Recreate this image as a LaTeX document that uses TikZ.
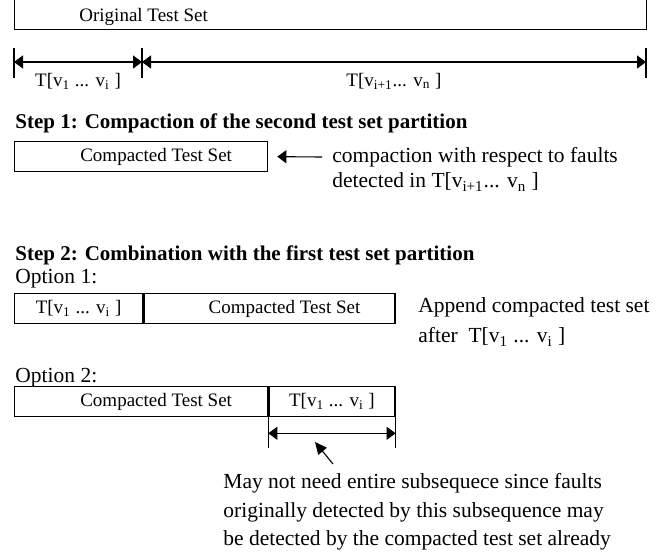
\documentclass[tikz,border=0pt]{standalone}
\usepackage{fontspec}
\setmainfont{Liberation Serif}
\usepackage{tikz}
\usetikzlibrary{arrows.meta,positioning,calc}

\begin{document}
\begin{tikzpicture}[x=0.5pt, y=-0.5pt,
  cell/.style={draw, line width=0.65pt, minimum height=15pt, inner sep=0pt, anchor=north west,
               font=\fontsize{9.5}{11}\selectfont},
  body/.style={inner sep=0pt, anchor=west, font=\fontsize{10.75}{14.25}\selectfont},
  head/.style={inner sep=0pt, anchor=west, font=\fontsize{10.5}{12}\selectfont\bfseries},
  dimarrow/.style={{Triangle[length=4.5pt,width=6.5pt]}-{Triangle[length=4.5pt,width=6.5pt]}, line width=0.55pt},
  arrow/.style={-{Triangle[length=4.5pt,width=6.5pt]}, line width=0.55pt},
  tick/.style={line width=0.55pt},
]
  \useasboundingbox (0,0) rectangle (672,558);

  % Original test set
  \node[cell, minimum width=316pt, minimum height=25pt, anchor=south west] (orig) at (14,30) {};
  \node[body, font=\fontsize{9.5}{11}\selectfont] (origtxt) at (79,17) {Original Test Set};

  \coordinate (a0) at (14,62);
  \coordinate (a1) at (142,62);
  \coordinate (a2) at (646,62);
  \foreach \c in {a0,a1,a2}
    \draw[tick] ($(\c)+(0,-14)$) -- ($(\c)+(0,16)$);
  \draw[dimarrow] (a0) -- node[below=5.5pt, inner sep=0pt, font=\fontsize{9.5}{11}\selectfont]
    {T[v\textsubscript{1} ... v\textsubscript{i} ]} (a1);
  \draw[dimarrow] (a1) -- node[below=5.5pt, inner sep=0pt, font=\fontsize{9.5}{11}\selectfont]
    {T[v\textsubscript{i+1}... v\textsubscript{n} ]} (a2);

  % Step 1
  \node[head] (step1) at (15,123) {Step 1: Compaction of the second test set partition};
  \node[cell, minimum width=126.5pt] (s1box) at (14,141) {\hspace*{15pt}Compacted Test Set};
  \node[body] (cmp) at (332,157) {compaction with respect to faults};
  \node[body] (det) at (332,182) {detected in T[v\textsubscript{i+1}... v\textsubscript{n} ]};
  \draw[arrow] ([xshift=-5pt]cmp.west) -- ([xshift=4.5pt]s1box.east);

  % Step 2
  \node[head] (step2) at (15,255) {Step 2: Combination with the first test set partition};

  % Option 1
  \node[body] (opt1) at (15,279) {Option 1:};
  \node[cell, minimum width=64pt] (o1a) at (14,293) {T[v\textsubscript{1} ... v\textsubscript{i} ]};
  \node[cell, minimum width=125.5pt] (o1b) at (o1a.north east) {\hspace*{15pt}Compacted Test Set};
  \node[body] (app) at (418,307) {Append compacted test set};
  \node[body] (aft) at (418,337) {after\ \ T[v\textsubscript{1} ... v\textsubscript{i} ]};

  % Option 2
  \node[body] (opt2) at (15,378) {Option 2:};
  \node[cell, minimum width=126.5pt] (o2a) at (14,386) {\hspace*{15pt}Compacted Test Set};
  \node[cell, minimum width=63pt] (o2b) at (o2a.north east) {T[v\textsubscript{1} ... v\textsubscript{i} ]};

  \coordinate (c0) at ($(o2b.south west)+(0,31)$);
  \coordinate (c1) at ($(o2b.south east)+(0,31)$);
  \draw[tick] (o2b.south west) -- (c0);
  \draw[tick] (o2b.south east) -- (c1);
  \draw[dimarrow] ($(o2b.south west)+(0,16)$) -- ($(o2b.south east)+(0,16)$);

  % Remark
  \node[body, align=left] (note) at (223,512)
    {May not need entire subsequece since faults\\
     originally detected by this subsequence may\\
     be detected by the compacted test set already};
  \coordinate (ptip) at (315,442);
  \coordinate (ptail) at (333,464);
  \draw[-{Triangle[length=6pt,width=5.5pt]}, line width=0.55pt] (ptail) -- (ptip);
\end{tikzpicture}
\end{document}
